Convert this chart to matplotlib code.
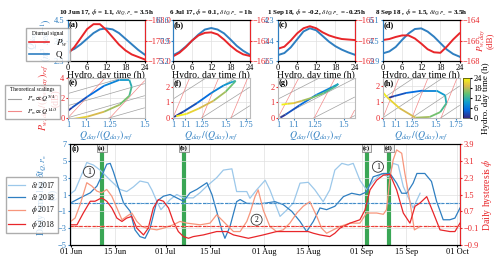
import numpy as np
import matplotlib.pyplot as plt
import matplotlib.dates as mdates
from matplotlib.collections import LineCollection
from matplotlib.colors import LinearSegmentedColormap
import datetime as dt

plt.rcParams['font.family'] = ['Liberation Serif', 'DejaVu Serif']
plt.rcParams['mathtext.fontset'] = 'stix'
plt.rcParams['font.size'] = 6

BLUE = '#2f7fc1'
RED = '#e8262a'
LBLUE = '#9cc8ea'
LRED = '#f7967c'

# ---- diurnal signals (a)-(d) ----
hours = [0, 2, 4, 6, 8, 10, 12, 14, 16, 18, 20, 22, 24]
q_a = [2.8, 2.95, 3.2, 3.5, 3.8, 4.0, 4.05, 4.0, 3.8, 3.5, 3.2, 2.9, 2.65]
p_a = [-172.1, -171.3, -170.2, -169.1, -168.5, -168.5, -169.2, -170.1, -171.0, -171.7, -172.2, -172.5, -172.8]
q_b = [5.95, 6.4, 7.1, 7.9, 8.7, 9.35, 9.55, 9.35, 8.85, 8.05, 7.2, 6.55, 6.05]
p_b = [-165.55, -165.2, -164.65, -164.0, -163.5, -163.25, -163.2, -163.4, -163.9, -164.5, -165.0, -165.35, -165.5]
q_c = [2.76, 2.85, 3.1, 3.45, 3.8, 3.94, 3.85, 3.6, 3.35, 3.15, 3.0, 2.88, 2.78]
p_c = [-167.8, -167.6, -167.0, -166.3, -165.8, -165.6, -165.8, -166.2, -166.5, -166.7, -166.85, -166.9, -166.95]
q_d = [3.5, 3.65, 4.0, 4.55, 5.05, 5.4, 5.45, 5.2, 4.8, 4.3, 3.8, 3.45, 3.24]
p_d = [-165.95, -165.85, -165.65, -165.5, -165.5, -165.8, -166.3, -166.85, -167.15, -167.2, -166.6, -165.9, -165.3]
# reference values used for the normalised loops (e)-(h)
q_ref = [2.89, 5.9, 2.72, 3.35]
p_ref = [-172.3, -165.6, -167.8, -167.2]

titles = [r'10 Jun 17, $\phi$ = 1.1, $\delta t_{Q,P_w}$ = 3.5h',
          r'6 Jul 17, $\phi$ = 0.1, $\delta t_{Q,P_w}$ = 1h',
          r'1 Sep 18, $\phi$ = -0.2, $\delta t_{Q,P_w}$ = -0.25h',
          r'8 Sep 18 , $\phi$ = 1.5, $\delta t_{Q,P_w}$ = 3.5h']
q_ticks = [[2.3, 3.4, 4.5], [5.2, 7.9, 10.6], [2.5, 3.4, 4.3], [2.9, 4.5, 6.1]]
p_ticks = [[-173, -170.5, -168], [-166, -164, -162], [-169, -167, -165], [-168, -166, -164]]
xmax_mid = [1.5, 1.8, 1.6, 1.8]
ymax_mid = [4, 2.6, 2.6, 2.5]
scal_base = 1.25
scal_exps = [5 / 4, 14 / 3]

# ---- time series (i) ----
d17_days = [0, 1.4, 5.1, 7.2, 9.3, 12.5, 15.6, 17.7, 19.8, 21.9, 24.4, 25.7, 27.2, 28.5, 31.4, 33.5, 35.6,
            38.7, 40.8, 43, 46.1, 48.2, 50.9, 52.4, 55.6, 56.6, 58.7, 61.4, 62.9, 66.1, 68.2, 70.3, 72.4,
            75, 77.1, 79.7, 81.8, 83.4, 85.6, 87.6, 89.2, 91.3, 93.4, 95.5, 98.2, 100.3, 101.8, 103.4,
            105, 107.1, 108.1, 110.3]
d17 = [1.1, 1.5, 4.8, 4.5, 3.9, 2.7, 1.6, 1.35, 1.9, 2.6, 2.4, 1.5, 0.2, -0.8, 0.4, 1.0, 0.6,
       0.6, 1.2, 2.0, 3.0, 3.9, 4.05, 1.35, 1.35, 0.55, 1.55, 2.7, 1.55, -1.6, -0.85, 0, 2.35,
       2.45, 1.55, 0.15, 1.55, 3.9, 4.7, 4.5, 4.7, 2.7, 1.55, 2.55, 3.5, 3.1, 4.7, 4.5,
       1.95, 0.2, -0.6, 1.15]
d18_days = [0, 3, 6.2, 8.3, 9.8, 11.4, 12.5, 13.5, 15.1, 16.7, 18.8, 20.3, 21.9, 23.5, 25.1, 27.2, 29.3,
            31.4, 33.5, 35.6, 37.7, 39.8, 43, 44.6, 46.1, 47.7, 48.7, 50.3, 52.4, 53.5, 55.6, 59.8,
            61.9, 64.5, 67.1, 69.8, 72.4, 74.5, 76.6, 78.7, 80.8, 83.4, 86.1, 88.7, 91.3, 93.4, 95.5,
            98.7, 100.8, 102.9, 104.5, 106.1, 108.1, 109.3, 111.8, 113.9, 115.5, 117.6, 119.7,
            121.3, 122.9]
d18 = [0.0, 0.6, 1.2, 2.0, 3.2, 4.6, 4.7, 3.7, 1.8, 0.0, -1.0, -3.2, -4.0, -4.2, -3.0, 0.2, 0.8,
       1.0, 0.6, 0.2, 1.2, 1.6, 2.4, 1.0, -1.0, -3.2, -4.2, -2.8, 0.15, 0.4, -0.05, -0.1,
       0.0, 0.15, -0.2, -1.0, -2.2, -3.4, -2.2, -0.6, -0.8, -0.4, 0.75, 1.15, 0.95, 1.3, 3.1,
       3.5, 3.5, 2.35, 1.15, 1.15, 2.35, 3.5, 3.5, 2.55, 0.2, -2.0, -2.0,
       -1.8, -0.6]
f17_days = [0, 1.4, 3, 5.1, 6.7, 8.3, 9.8, 11.4, 13, 14.6, 16.2, 17.7, 19.3, 20.9, 22.5, 24, 27.2,
            29.3, 32.4, 34.5, 36.7, 40.9, 44, 46.1, 48.2, 49.8, 51.4, 53.5, 55.6, 56.6, 58.2, 59.2,
            60.8, 62.9, 65, 67.1, 69.2, 71.4, 73.4, 75.5, 77.7, 79.2, 80.8, 82.9, 85, 88.2, 91.3,
            93.4, 96.6, 98.7, 99.7, 100.8, 101.8, 102.9, 104.5, 105.5, 107, 108.5, 110.3]
f17 = [0.22, 0.38, 1.02, 2.06, 1.9, 1.66, 1.58, 1.74, 1.42, 0.86, 0.30, 0.46, 0.62, 0.22, -0.02, -0.10, -0.18,
       -0.10, 0.06, 0.22, 0.14, 0.06, 0.14, 0.54, 0.22, -0.02, -0.26, -0.26, 0.22, 0.62, 1.40, 1.72,
       0.76, -0.02, -0.26, -0.18, 0.14, 0.62, 0.94, 1.16, 0.46, -0.10, -0.34, -0.18, -0.02, 0.14, 0.14,
       0.62, 0.62, 0.56, 0.78, 2.3, 3.14, 3.62, 3.46, 2.5, 1.24, -0.18, -0.02]
f18_days = [0, 2, 4, 6.2, 7.7, 9.8, 11.4, 13, 14.6, 16.2, 17.7, 19.3, 20.9, 23, 24.5, 26.1, 27.7,
            29.3, 30.9, 32.4, 34, 35.6, 37.2, 38.7, 41.9, 46.1, 49.3, 51.4, 56.1, 60.8, 65, 72.4,
            75, 76.6, 78.7, 81.8, 83.4, 85, 88.2, 91.3, 92.9, 94.5, 96.6, 98.7, 100.8, 102.9, 105,
            107.1, 108.7, 110.3, 112.4, 114.5, 116.6, 119.7, 121.3, 122.9]
f18 = [0.06, 0.06, 0.62, 1.18, 1.18, 1.34, 1.18, 0.86, 0.38, 0.22, 0.38, 0.46, -0.10, -0.42, -0.10, 0.86, 1.26,
       1.18, 0.86, 0.22, -0.26, -0.50, -0.58, -0.50, -0.42, -0.26, -0.26, -0.42, -0.58, -0.42, -0.26, -0.26,
       -0.26, -0.34, -0.42, -0.50, -0.34, -0.10, 0.14, 0.30, 0.76, 1.72, 2.18, 2.42, 2.46, 1.72, 0.62,
       0.14, 0.94, 1.10, 1.40, 0.62, -0.18, -0.26, -0.26, 0.14]
event_days = [9.8, 35.8, 93.4, 100.5]
event_labels = ['(a)', '(b)', '(c)', '(d)']

parula = LinearSegmentedColormap.from_list('parula', [
    (0.0, (0.208, 0.166, 0.529)), (0.2, (0.012, 0.42, 0.88)), (0.4, (0.07, 0.63, 0.80)),
    (0.6, (0.38, 0.76, 0.45)), (0.8, (0.86, 0.73, 0.30)), (1.0, (0.976, 0.983, 0.054))])

fig = plt.figure(figsize=(5, 2.59), dpi=100)

xs = [0.136, 0.346, 0.556, 0.766]
top_axes = []
for k, (q, p) in enumerate([(q_a, p_a), (q_b, p_b), (q_c, p_c), (q_d, p_d)]):
    ax = fig.add_axes([xs[k], 0.7645, 0.153, 0.158])
    ax2 = ax.twinx()
    ax.plot(hours, q, color=BLUE, lw=1.4)
    ax2.plot(hours, p, color=RED, lw=1.4)
    ax.set_xlim(0, 24)
    ax.set_xticks([0, 6, 12, 18, 24])
    ax.set_ylim(q_ticks[k][0], q_ticks[k][-1])
    ax.set_yticks(q_ticks[k])
    ax2.set_ylim(p_ticks[k][0], p_ticks[k][-1])
    ax2.set_yticks(p_ticks[k])
    ax.tick_params(axis='y', colors=BLUE, length=1.5, pad=1)
    ax2.tick_params(axis='y', colors=RED, length=1.5, pad=1)
    ax.tick_params(axis='x', length=1.5, pad=1)
    ax.spines['left'].set_color(BLUE)
    ax2.spines['left'].set_color(BLUE)
    ax2.spines['right'].set_color(RED)
    ax.grid(color='#e0e0e0', lw=0.5)
    ax.set_xlabel('Hydro. day time (h)', fontsize=7, labelpad=-1.5)
    ax.set_title(titles[k], fontsize=5, fontweight='bold', pad=4)
    ax.text(0.01, 0.97, '(' + 'abcd'[k] + ')', transform=ax.transAxes, fontsize=6,
            fontweight='bold', va='top')
    top_axes.append(ax)
    if k == 0:
        ax.set_ylabel('$Q_{day}$\n$(m^3\\ sec^{-1})$', color=BLUE, fontsize=7, labelpad=0, linespacing=0.9)
    if k == 3:
        ax2.set_ylabel('$P_{w,day}$\n(dB)', color=RED, fontsize=6.5, linespacing=0.9)
        ax2.yaxis.set_label_coords(1.2, 0.5)

ha, = top_axes[0].plot([], [], color=RED, lw=1.2, label='$P_w$')
hb, = top_axes[0].plot([], [], color=BLUE, lw=1.2, label='Q')
fig.legend(handles=[ha, hb], loc='upper left', bbox_to_anchor=(0.043, 0.91),
           title='Diurnal signal', fontsize=6.5, title_fontsize=4, frameon=True,
           handlelength=2.2, borderpad=0.3, labelspacing=0.2, fancybox=False, edgecolor='#999999')

# ---- (e)-(h) ----
for k, (q, p) in enumerate([(q_a, p_a), (q_b, p_b), (q_c, p_c), (q_d, p_d)]):
    ax = fig.add_axes([xs[k], 0.5456, 0.153, 0.154])
    qn = np.array(q) / q_ref[k]
    pn = np.array(p) - p_ref[k]
    xlo, xhi = 1, xmax_mid[k]
    for e, col in zip(scal_exps, ['#a0a0a0', '#f28a8a']):
        step = 10 * e * np.log10(scal_base)
        for j in range(-12, 8):
            c = -j * step
            ax.plot([xlo, xhi], [c, c + 10 * e * np.log10(xhi)], color=col, lw=0.5)
    pts = np.column_stack([qn, pn]).reshape(-1, 1, 2)
    segs = np.concatenate([pts[:-1], pts[1:]], axis=1)
    lc = LineCollection(segs, cmap=parula, norm=plt.Normalize(0, 24), lw=1.3)
    lc.set_array(np.array(hours[:-1]) + 1)
    ax.add_collection(lc)
    ax.set_xscale('log')
    ax.set_xlim(xlo, xhi)
    ax.set_ylim(0, ymax_mid[k])
    ticks = [t for t in [1, 1.1, 1.25, 1.5, 1.75] if t <= xhi]
    ax.set_xticks(ticks)
    ax.set_xticklabels([('%g' % t) for t in ticks])
    ax.minorticks_off()
    ax.set_yticks([0, 2, 4] if k == 0 else [0, 1, 2])
    ax.tick_params(axis='y', colors=RED, length=1.5, pad=1)
    ax.tick_params(axis='x', colors=BLUE, length=1.5, pad=1)
    for s in ax.spines.values():
        s.set_color('#bbbbbb')
    ax.grid(color='#e0e0e0', lw=0.5)
    ax.set_xlabel('$Q_{day}/(Q_{day})_{ref}$', color=BLUE, fontsize=7, labelpad=0)
    ax.text(0.01, 0.97, '(' + 'efgh'[k] + ')', transform=ax.transAxes, fontsize=6,
            fontweight='bold', va='top')
    if k == 0:
        ax.set_ylabel('$P_{w,day}/(P_{w,day})_{ref}$\n(dB)', color=RED, fontsize=7,
                      labelpad=0, linespacing=0.9)

cax = fig.add_axes([0.926, 0.5456, 0.014, 0.154])
sm = plt.cm.ScalarMappable(cmap=parula, norm=plt.Normalize(0, 24))
cb = fig.colorbar(sm, cax=cax, ticks=[0, 6, 12, 18, 24])
cb.ax.tick_params(labelsize=6, length=1.5, pad=1)
cb.outline.set_linewidth(0.4)
cb.set_label('Hydro. day time (h)', fontsize=6.5, labelpad=0)

hg, = top_axes[0].plot([], [], color='#a0a0a0', lw=0.8, label=r'$P_w \propto Q^{5/4}$')
hr, = top_axes[0].plot([], [], color='#f28a8a', lw=0.8, label=r'$P_w \propto Q^{14/3}$')
fig.legend(handles=[hg, hr], loc='upper left', bbox_to_anchor=(0.004, 0.685),
           title='Theoretical scalings', fontsize=5, title_fontsize=4, frameon=True,
           handlelength=2.0, borderpad=0.3, labelspacing=0.2, fancybox=False, edgecolor='#999999')

# ---- (i) ----
t0 = dt.datetime(2017, 6, 1)
def to_dates(days):
    return [t0 + dt.timedelta(days=d) for d in days]

axi = fig.add_axes([0.14, 0.054, 0.78, 0.39])
axr = axi.twinx()
axi.plot(to_dates(d17_days), d17, color=LBLUE, lw=0.9, label=r'$\delta t$ 2017')
axi.plot(to_dates(d18_days), d18, color=BLUE, lw=0.9, label=r'$\delta t$ 2018')
axr.plot(to_dates(f17_days), f17, color=LRED, lw=0.9, label=r'$\phi$ 2017')
axr.plot(to_dates(f18_days), f18, color=RED, lw=0.9, label=r'$\phi$ 2018')
axi.axhline(0, color=LBLUE, lw=1.0, ls='--')
axi.axhline(0, color=BLUE, lw=0.6, ls='--')
axr.axhline(0, color=LRED, lw=1.0, ls='--')
axr.axhline(0, color=RED, lw=0.6, ls='--')
for d, lab in zip(event_days, event_labels):
    x = t0 + dt.timedelta(days=d)
    axi.axvline(x, color='#3aa655', lw=3, zorder=0.5)
    axi.text(x, 6.5, lab, fontsize=4.5, fontweight='bold', ha='center', va='center',
             bbox=dict(boxstyle='square,pad=0.2', fc='#eeeeee', ec='#777777', lw=0.5))
for d, v, lab in [(5.8, 3.7, '1'), (97, 4.3, '1'), (58.7, -2.0, '2')]:
    axi.text(t0 + dt.timedelta(days=d), v, lab, fontsize=5.5, ha='center', va='center',
             bbox=dict(boxstyle='circle,pad=0.2', fc='white', ec='#333333', lw=0.6))
axi.set_xlim(t0 - dt.timedelta(days=0.2), t0 + dt.timedelta(days=122.9))
axi.set_ylim(-5, 7)
axi.set_yticks([-5, -3, -1, 1, 3, 5, 7])
axr.set_ylim(-0.9, 3.9)
axr.set_yticks([-0.9, -0.1, 0.7, 1.5, 2.3, 3.1, 3.9])
axi.xaxis.set_major_locator(mdates.DayLocator(bymonthday=[1, 15]))
axi.xaxis.set_major_formatter(mdates.DateFormatter('%d %b'))
axi.tick_params(axis='y', colors=BLUE, length=1.5, pad=1)
axr.tick_params(axis='y', colors=RED, length=1.5, pad=1)
axi.tick_params(axis='x', length=1.5, pad=1, labelsize=6)
axi.grid(color='#e0e0e0', lw=0.5)
axi.spines['left'].set_color(BLUE)
axr.spines['right'].set_color(RED)
axi.set_ylabel(r'Daily time lag $\delta t_{Q,P_w}$' + '\n(h)', color=BLUE, fontsize=7, labelpad=0,
               linespacing=0.9)
axr.set_ylabel(r'Daily hysteresis $\phi$', color=RED, fontsize=7, labelpad=1)
axi.text(0.003, 0.995, '(i)', transform=axi.transAxes, fontsize=6, fontweight='bold', va='top')
h1, l1 = axi.get_legend_handles_labels()
h2, l2 = axr.get_legend_handles_labels()
fig.legend(h1 + h2, l1 + l2, loc='upper left', bbox_to_anchor=(0.004, 0.33), fontsize=5.5,
           frameon=True, handlelength=2.2, borderpad=0.3, labelspacing=0.3, fancybox=False,
           edgecolor='#999999')

fig.savefig('out.png', dpi=100)
